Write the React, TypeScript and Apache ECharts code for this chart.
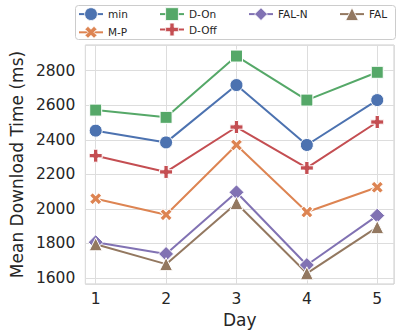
import React, { useEffect, useRef } from "react";
import * as echarts from "echarts";

const days = [1, 2, 3, 4, 5];
const seriesNames = ["min", "M-P", "D-On", "D-Off", "FAL-N", "FAL"];
const minVals = [2453, 2385, 2717, 2370, 2630];
const mpVals = [2059, 1966, 2370, 1982, 2125];
const dOnVals = [2572, 2530, 2885, 2630, 2791];
const dOffVals = [2308, 2214, 2474, 2237, 2503];
const falNVals = [1807, 1739, 2096, 1675, 1961];
const falVals = [1795, 1680, 2033, 1627, 1894];

const FONT = "DejaVu Sans";
const TXT = "#262626";
const PLUS = "path://M-1,-3L1,-3L1,-1L3,-1L3,1L1,1L1,3L-1,3L-1,1L-3,1L-3,-1L-1,-1Z";

export default function App() {
  const ref = useRef<HTMLDivElement>(null);
  useEffect(() => {
    const chart = echarts.init(ref.current!, null, { renderer: "svg" });
    const mk = (
      name: string,
      vals: number[],
      color: string,
      symbol: string,
      size: number,
      rotate = 0
    ) => ({
      name,
      type: "line",
      data: days.map((d, i) => [d, vals[i]]),
      symbol,
      symbolSize: size,
      symbolRotate: rotate,
      showAllSymbol: true,
      clip: false,
      lineStyle: { color, width: 2 },
      itemStyle: { color, borderColor: "#ffffff", borderWidth: 1 },
      emphasis: { disabled: true },
    });
    const legendItem = (name: string, left: number, top: number) => ({
      orient: "vertical",
      left,
      top,
      itemWidth: 24,
      itemHeight: 16,
      padding: 0,
      data: [name],
      lineStyle: { width: 2 },
      itemStyle: { borderWidth: 0.8 },
      textStyle: { fontFamily: FONT, fontSize: 10.5, color: TXT },
    });
    const rowTop = [7.3, 22.7];
    chart.setOption({
      animation: false,
      backgroundColor: "#ffffff",
      textStyle: { fontFamily: FONT },
      graphic: [
        {
          type: "rect",
          z: 0,
          shape: { x: 75.5, y: 5.5, width: 320, height: 34, r: 3 },
          style: { fill: "#ffffff", stroke: "#cccccc", lineWidth: 1 },
        },
      ],
      legend: [
        legendItem(seriesNames[0], 78, rowTop[0]),
        legendItem(seriesNames[1], 78, rowTop[1]),
        legendItem(seriesNames[2], 159, rowTop[0]),
        legendItem(seriesNames[3], 159, rowTop[1]),
        legendItem(seriesNames[4], 248, rowTop[0]),
        legendItem(seriesNames[5], 339, rowTop[0]),
      ],
      grid: {
        left: 75,
        right: 13,
        top: 45,
        bottom: 51,
        show: true,
        borderColor: "#cccccc",
        borderWidth: 1,
        containLabel: false,
      },
      xAxis: {
        type: "value",
        min: 0.853,
        max: 5.238,
        splitNumber: 5,
        name: "Day",
        nameLocation: "middle",
        nameGap: 24,
        nameTextStyle: { fontFamily: FONT, fontSize: 17, color: TXT },
        axisLine: { show: false },
        axisTick: { show: false },
        axisLabel: {
          showMinLabel: false,
          showMaxLabel: false,
          fontFamily: FONT,
          fontSize: 15.5,
          color: TXT,
          margin: 7,
        },
        splitLine: { show: true, lineStyle: { color: "#dddddd", width: 1 } },
      },
      yAxis: {
        type: "value",
        min: 1565,
        max: 2949,
        splitNumber: 7,
        name: "Mean Download Time (ms)",
        nameLocation: "middle",
        nameGap: 58,
        nameTextStyle: { fontFamily: FONT, fontSize: 17, color: TXT },
        axisLine: { show: false },
        axisTick: { show: false },
        axisLabel: {
          showMinLabel: false,
          showMaxLabel: false,
          fontFamily: FONT,
          fontSize: 15.5,
          color: TXT,
          margin: 10,
          formatter: (v: number) => String(v),
        },
        splitLine: { show: true, lineStyle: { color: "#dddddd", width: 1 } },
      },
      series: [
        mk(seriesNames[0], minVals, "#4C72B0", "circle", 13),
        mk(seriesNames[1], mpVals, "#DD8452", PLUS, 13, 45),
        mk(seriesNames[2], dOnVals, "#55A868", "rect", 12),
        mk(seriesNames[3], dOffVals, "#C44E52", PLUS, 13),
        mk(seriesNames[4], falNVals, "#8172B3", "diamond", 15),
        mk(seriesNames[5], falVals, "#937860", "triangle", 13),
      ],
    });
    return () => chart.dispose();
  }, []);
  return (
    <div
      ref={ref}
      style={{ position: "fixed", left: 0, top: 0, width: 407, height: 335 }}
    />
  );
}
